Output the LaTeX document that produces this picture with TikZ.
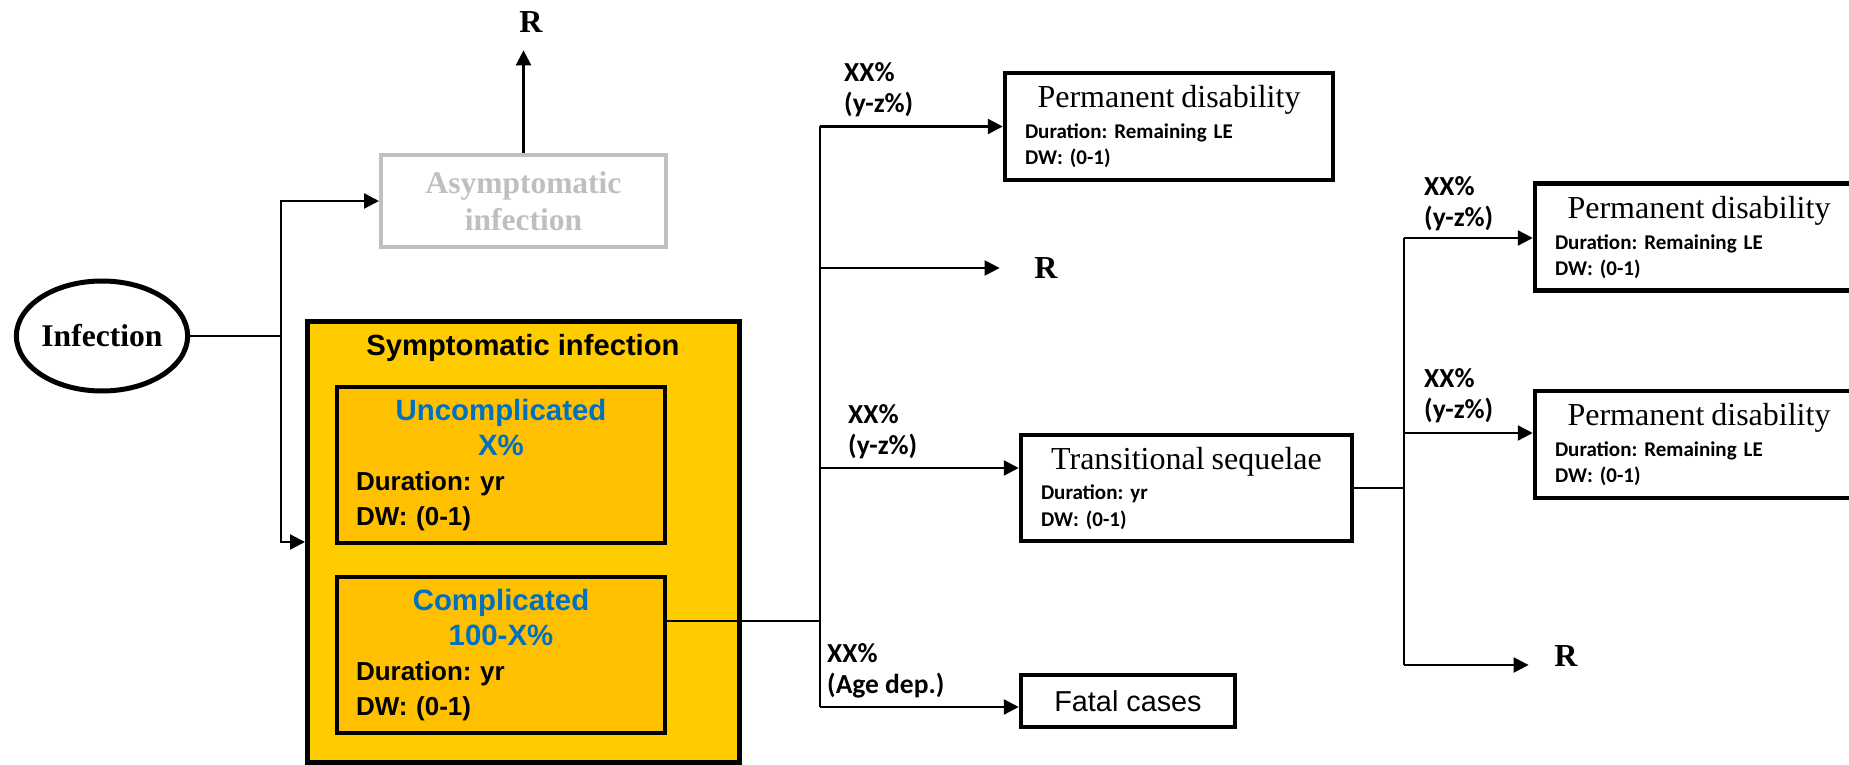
\documentclass[tikz,border=0pt]{standalone}
\usepackage{fontspec}
\setmainfont{Liberation Serif}
\newfontfamily\arialf{Liberation Sans}
\newfontfamily\calf{Carlito}
\usetikzlibrary{arrows.meta,positioning,shapes}
\frenchspacing
\definecolor{symyellow}{HTML}{FFCC00}
\definecolor{boxorange}{HTML}{FFC000}
\definecolor{txtblue}{HTML}{0070C0}
\definecolor{asymgray}{HTML}{BFBFBF}
\newcommand\pdtitle[1]{\makebox[\linewidth]{\rmfamily\mdseries\fontsize{16}{16}\selectfont #1}}
\newcommand\bluehead[1]{\makebox[\linewidth]{\color{txtblue}\fontsize{14.7}{17.5}\selectfont #1}}
\tikzstyle{pdbox} = [rectangle, draw, line width=2.25pt, minimum width=164pt, minimum height=53.5pt, text width=144pt, align=left, inner sep=0pt, font=\calf\bfseries\fontsize{10.5}{13}\selectfont]
\tikzstyle{inbox} = [rectangle, draw, line width=2.25pt, fill=boxorange, minimum width=164pt, minimum height=78pt, text width=145pt, align=left, inner sep=0pt, font=\arialf\bfseries\fontsize{13}{17.5}\selectfont]
\tikzstyle{pct} = [anchor=west, align=left, inner sep=0pt, font=\calf\bfseries\fontsize{13.75}{15.5}\selectfont]
\tikzstyle{rnode} = [font=\bfseries\fontsize{16}{16}\selectfont]
\tikzstyle{arr} = [-{Triangle[length=7.5pt,width=7.5pt]}]
\begin{document}
\begin{tikzpicture}[line width=1.2pt, x=0.5pt, y=-0.5pt]
        \useasboundingbox (0,0) rectangle (1849,765);
        \clip (0,0) rectangle (1849,765);

        \node[ellipse, draw, line width=2.5pt, minimum width=81.5pt, minimum height=55pt, inner sep=0pt, font=\bfseries\fontsize{15.8}{16}\selectfont] (i1) at (102,336) {Infection};
        \node[rectangle, draw=asymgray, line width=2pt, minimum width=142.5pt, minimum height=46pt, align=center, text=asymgray, font=\bfseries\fontsize{15.75}{18.5}\selectfont] (a1) at (523.5,201) {Asymptomatic\\infection};
        \node[rnode] (r1) at (531,22) {R};

        \node[rectangle, draw, line width=2.5pt, fill=symyellow, minimum width=216pt, minimum height=220.5pt] (s1) at (523.5,542) {};
        \node[font=\arialf\bfseries\fontsize{14.6}{16}\selectfont] (s0) at (523,348) {Symptomatic infection};
        \node[inbox] (s2) at (501,465) {\bluehead{Uncomplicated}\\ \bluehead{X\%}\\ Duration: yr\\ DW: (0-1)};
        \node[inbox] (s3) at (501,655) {\bluehead{Complicated}\\ \bluehead{100-X\%}\\ Duration: yr\\ DW: (0-1)};

        \coordinate (j1) at (281,336);
        \coordinate (j2) at (820,621);
        \coordinate (b1) at (820,126.5);
        \coordinate (b2) at (820,268);
        \coordinate (b3) at (820,468);
        \coordinate (b4) at (820,707);

        \node[pdbox] (p1) at (1169,126.5) {\pdtitle{Permanent disability}\\[2.5pt] Duration: Remaining LE\\ DW: (0-1)};
        \node[rnode, right of=b2, node distance=113pt] (r2) {R};
        \node[pdbox, minimum width=165.5pt, minimum height=53pt, text width=145.5pt, font=\calf\bfseries\fontsize{10.5}{13.5}\selectfont] (t1) at (1186.5,488) {\pdtitle{Transitional sequelae}\\[1.5pt] Duration: yr\\ DW: (0-1)};
        \node[rectangle, draw, line width=2.25pt, minimum width=107pt, minimum height=26pt, font=\arialf\fontsize{14.4}{16}\selectfont] (f1) at (1128,701) {Fatal cases};

        \node[pct] (l1) at (843,90) {XX\%\\(y-z\%)};
        \node[pct] (l2) at (847,432) {XX\%\\(y-z\%)};
        \node[pct] (l3) at (826,671) {XX\%\\(Age dep.)};

        \coordinate (j3) at (1404,488);
        \coordinate (c1) at (1404,238);
        \coordinate (c2) at (1404,433);
        \coordinate (c3) at (1404,665);

        \node[pdbox] (p2) at (1699,237) {\pdtitle{Permanent disability}\\[2.5pt] Duration: Remaining LE\\ DW: (0-1)};
        \node[pdbox] (p3) at (1699,444.5) {\pdtitle{Permanent disability}\\[2.5pt] Duration: Remaining LE\\ DW: (0-1)};
        \node[rnode, right of=c3, node distance=81pt, yshift=4.5pt] (r3) {R};

        \node[pct] (l4) at (1423,204) {XX\%\\(y-z\%)};
        \node[pct] (l5) at (1423,396) {XX\%\\(y-z\%)};

        \draw (i1.east) -- (j1);
        \draw[arr] (j1) |- (a1.west);
        \draw[arr] (j1) |- (s1.west);
        \draw[arr, shorten >=5pt] (a1.north) -- (a1.north |- r1.south);

        \draw (j2 -| s3.east) -- (j2);
        \draw (b1) -- (b4);
        \draw[arr] (b1) -- (p1.west);
        \draw[arr, shorten >=13.5pt] (b2) -- (r2.west);
        \draw[arr] (b3) -- (b3 -| t1.west);
        \draw[arr] (b4) -- (b4 -| f1.west);

        \draw (t1.east) -- (j3);
        \draw (c1) -- (c3);
        \draw[arr] (c1) -- (c1 -| p2.west);
        \draw[arr] (c2) -- (c2 -| p3.west);
        \draw[arr, shorten >=9pt] (c3) -- (c3 -| r3.west);

    \end{tikzpicture}
\end{document}
